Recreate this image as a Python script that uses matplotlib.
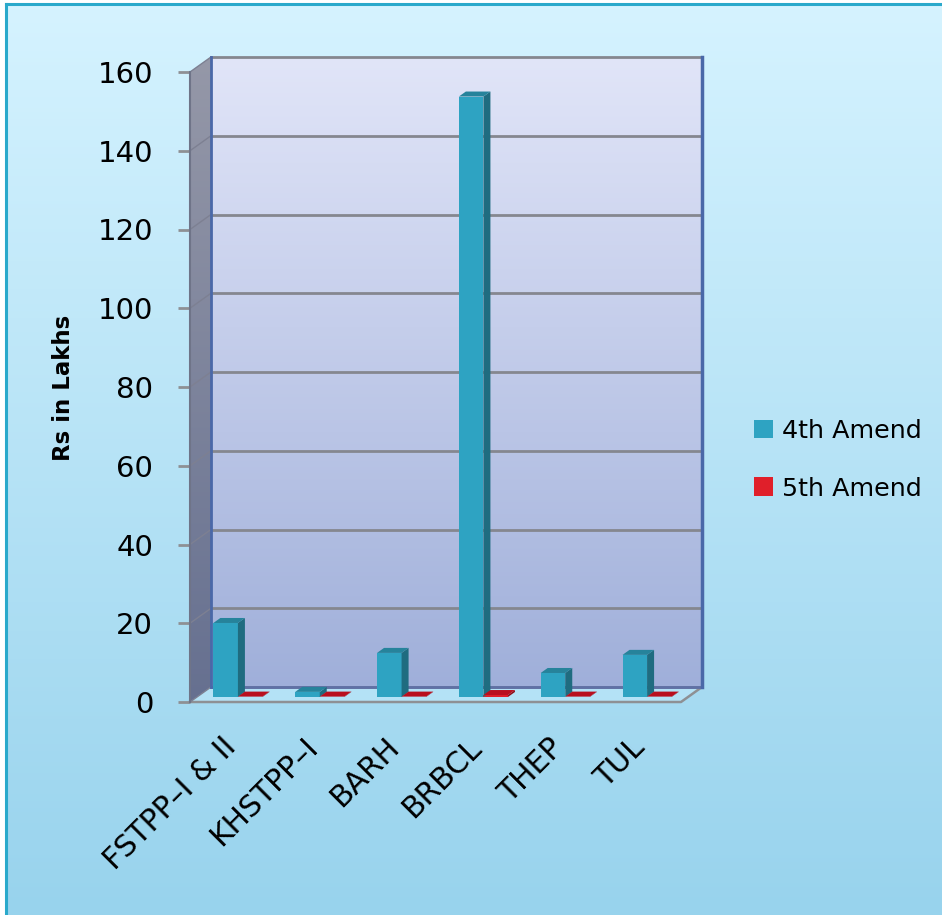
# amendment bars, faked 3D look like the office chart
import numpy as np
import matplotlib
matplotlib.use("Agg")
import matplotlib.pyplot as plt
from matplotlib.patches import Polygon

plants = ["FSTPP–I & II", "KHSTPP–I", "BARH", "BRBCL", "THEP", "TUL"]
amend_4th = [18.8, 1.3, 11.2, 152.5, 6.1, 10.7]
amend_5th = [0.1, 0.1, 0.1, 0.5, 0.1, 0.1]
y_ticks = [0, 20, 40, 60, 80, 100, 120, 140, 160]

W, H = 942, 915
fig = plt.figure(figsize=(W / 100, H / 100), dpi=100, facecolor="white")

# page background
bg = fig.add_axes([7 / W, 0, 1 - 7 / W, 1 - 5 / H], zorder=0)
bg.axis("off")
grad = np.linspace(0, 1, 256)[:, None]
page = np.array([0xd5, 0xf3, 0xff]) * (1 - grad) + np.array([0x98, 0xd3, 0xed]) * grad
bg.imshow(page[:, None, :].reshape(256, 1, 3) / 255, aspect="auto")
fig.add_artist(plt.Line2D([6 / W, 6 / W], [0, 1 - 4 / H], color="#2aa9cb", lw=2.2))
fig.add_artist(plt.Line2D([6 / W, 1], [1 - 4 / H, 1 - 4 / H], color="#2aa9cb", lw=2.2))

# front plane of the plot box, 190..681 px and 72..702 px
x0, x1, y_top, y_bot = 190, 681, 72, 702
ax = fig.add_axes([x0 / W, 1 - y_bot / H, (x1 - x0) / W, (y_bot - y_top) / H], zorder=1)
ax.patch.set_alpha(0)
ax.set_xlim(0, 6)
ax.set_ylim(0, 160)
DX = 21 * 6 / (x1 - x0)      # full depth in data units
DY = 15 * 160 / (y_bot - y_top)


def wall_gradient(top, bottom, pts):
    g = np.linspace(0, 1, 256)[:, None, None]
    img = (np.array(top)[None, None, :] * (1 - g) + np.array(bottom)[None, None, :] * g) / 255
    im = ax.imshow(img, extent=[0, 6 + DX, 0, 160 + DY], aspect="auto", zorder=1)
    # axes box would cut the part that sticks out behind the front plane
    im.set_clip_box(fig.bbox)
    im.set_clip_path(Polygon(pts, transform=ax.transData))


wall_gradient((0xe1, 0xe5, 0xf8), (0x9e, 0xae, 0xd9),
              [(DX, DY), (6 + DX, DY), (6 + DX, 160 + DY), (DX, 160 + DY)])
wall_gradient((0x95, 0x98, 0xa8), (0x66, 0x70, 0x90),
              [(0, 0), (DX, DY), (DX, 160 + DY), (0, 160)])
ax.set_xlim(0, 6)
ax.set_ylim(0, 160)

# floor
ax.add_patch(Polygon([(0, 0), (6, 0), (6 + DX, DY), (DX, DY)], fc="#b4e2f6", ec="none",
                     zorder=2, clip_on=False))
ax.plot([0, 6, 6 + DX], [0, 0, DY], color="#8e9094", lw=1.8, zorder=3, clip_on=False)

# grid on back wall and side wall
for v in y_ticks:
    ax.plot([DX, 6 + DX], [v + DY, v + DY], color="#85878f", lw=2, zorder=3, clip_on=False)
    ax.plot([0, DX], [v, v + DY], color="#7d8092", lw=1, zorder=3, clip_on=False)
ax.plot([DX, DX], [DY, 160 + DY], color="#4a68a8", lw=2, zorder=4, clip_on=False)
ax.plot([6 + DX, 6 + DX], [DY, 160 + DY], color="#4a68a8", lw=2.5, zorder=4, clip_on=False)
ax.plot([DX, 6 + DX], [DY, DY], color="#5f71a6", lw=2, zorder=3, clip_on=False)
ax.plot([0, 0], [0, 160], color="#6f7488", lw=1.5, zorder=4, clip_on=False)

# bars sit between 1/3 and 2/3 of the depth
bar_w = 0.3
pos = np.arange(len(plants)) + 0.5


def bar_3d(xs, vals, front, side, top, label):
    d1, e1 = DX / 3, DY / 3
    e2 = 2 * DY / 3
    bars = ax.bar(xs + d1, vals, bar_w, bottom=e1, color=front, zorder=5, label=label, clip_on=False)
    for b, v in zip(xs, vals):
        l, r = b - bar_w / 2 + d1, b + bar_w / 2 + d1
        ax.add_patch(Polygon([(r, e1), (r + DX / 3, e2), (r + DX / 3, v + e2), (r, v + e1)],
                             fc=side, ec="none", zorder=6, clip_on=False))
        ax.add_patch(Polygon([(l, v + e1), (r, v + e1), (r + DX / 3, v + e2), (l + DX / 3, v + e2)],
                             fc=top, ec="none", zorder=6, clip_on=False))
    return bars


h4 = bar_3d(pos - bar_w / 2, amend_4th, "#2ea3c2", "#1f6c80", "#26839b", "4th Amend")
h5 = bar_3d(pos + bar_w / 2, amend_5th, "#e01f2a", "#8e0c16", "#b90f1e", "5th Amend")

for s in ax.spines.values():
    s.set_visible(False)
ax.set_yticks(y_ticks)
ax.tick_params(axis="y", length=8.6, width=2, color="#8e9094", pad=18, labelsize=21)
ax.set_xticks(pos - 0.12)
ax.set_xticklabels(plants, rotation=45, ha="right", rotation_mode="anchor", fontsize=21.5)
ax.tick_params(axis="x", length=0, pad=22)

fig.text(63 / W, 1 - 388 / H, "Rs in Lakhs", rotation=90, va="center", ha="center",
         fontsize=16.5, fontweight="bold", color="black")

fig.legend(handles=[h4, h5], loc="upper left", bbox_to_anchor=(754 / W, 1 - 419 / H),
           frameon=False, fontsize=18.3, handlelength=0.75, handleheight=0.75, handletextpad=0.35,
           labelspacing=1.32, borderpad=0, borderaxespad=0)

fig.savefig("out.png", dpi=100)
